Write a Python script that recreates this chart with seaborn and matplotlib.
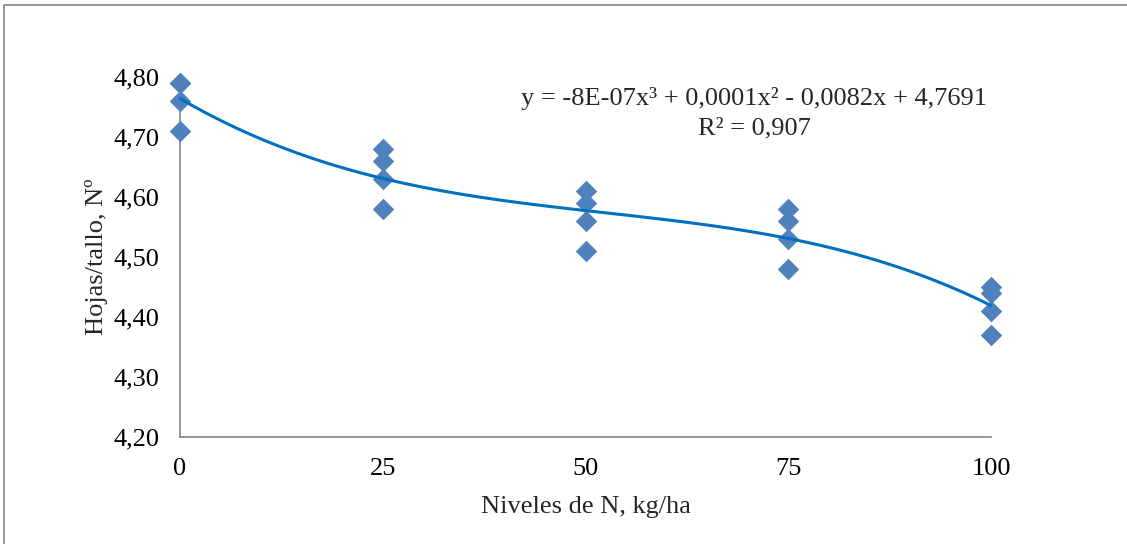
import numpy as np
import pandas as pd
import matplotlib
matplotlib.use("Agg")
import matplotlib.pyplot as plt
import matplotlib.patches as mpatches
from matplotlib.ticker import FuncFormatter
import seaborn as sns

# data (one point at 0 hidden under another)
niveles = [0, 0, 0, 0,
           25, 25, 25, 25,
           50, 50, 50, 50,
           75, 75, 75, 75,
           100, 100, 100, 100]
hojas = [4.79, 4.79, 4.76, 4.71,
         4.68, 4.66, 4.63, 4.58,
         4.61, 4.59, 4.56, 4.51,
         4.58, 4.56, 4.53, 4.48,
         4.45, 4.44, 4.41, 4.37]
x_ticks = [0, 25, 50, 75, 100]
y_ticks = [4.20, 4.30, 4.40, 4.50, 4.60, 4.70, 4.80]
ecuacion = "y = -8E-07x³ + 0,0001x² - 0,0082x + 4,7691"
r2_text = "R² = 0,907"

df = pd.DataFrame({"N": niveles, "Hojas": hojas})

sns.set_style("white")
plt.rcParams["font.family"] = ["Liberation Serif", "DejaVu Serif"]

fig = plt.figure(figsize=(11.27, 5.44), dpi=100)
ax = fig.add_axes([180 / 1127, 1 - 437 / 544, (991 - 180) / 1127, (437 - 77) / 544])

sns.regplot(data=df, x="N", y="Hojas", order=3, ci=None, marker="D", ax=ax,
            scatter_kws={"color": "#4F81BD", "s": 120, "linewidths": 0, "alpha": 1,
                         "zorder": 3, "clip_on": False},
            line_kws={"color": "#0070C0", "linewidth": 2.2, "zorder": 4, "clip_on": False})

ax.set_xlim(0, 100)
ax.set_ylim(4.20, 4.80)
ax.set_xticks(x_ticks)
ax.set_yticks(y_ticks)
ax.yaxis.set_major_formatter(FuncFormatter(lambda v, p: f"{v:.2f}".replace(".", ",")))

for s in ["top", "right"]:
    ax.spines[s].set_visible(False)
for s in ["left", "bottom"]:
    ax.spines[s].set_color("#868686")
    ax.spines[s].set_linewidth(1.2)
ax.tick_params(axis="both", direction="out", length=5, width=1.2, color="#868686",
               labelsize=19, labelcolor="black")
ax.tick_params(axis="y", pad=10)
ax.tick_params(axis="x", pad=10)

ax.set_xlabel("Niveles de N, kg/ha", fontsize=19, labelpad=12)
ax.set_ylabel("Hojas/tallo, Nº", fontsize=19, labelpad=4)

ax.text(754 / 1127, 1 - 98 / 544, ecuacion, transform=fig.transFigure,
        ha="center", va="center", fontsize=19)
ax.text(754 / 1127, 1 - 128 / 544, r2_text, transform=fig.transFigure,
        ha="center", va="center", fontsize=19)

# chart border
fig.patches.append(mpatches.Rectangle((4 / 1127, -0.1), 1.2, 1 - 5 / 544 + 0.1,
                                      transform=fig.transFigure, fill=False,
                                      edgecolor="#868686", linewidth=1.2))

plt.savefig("out.png", dpi=100)
